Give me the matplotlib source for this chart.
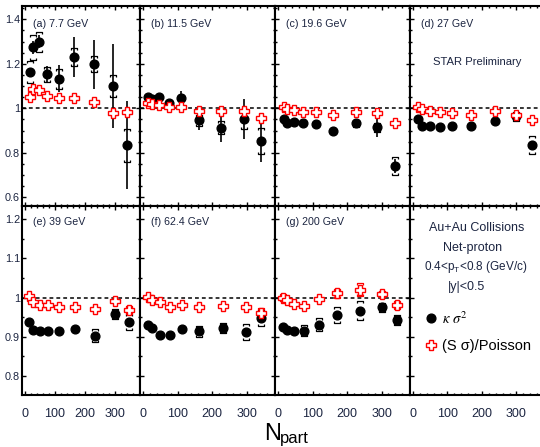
import matplotlib
matplotlib.use('Agg')
import matplotlib.pyplot as plt
from matplotlib.lines import Line2D
from matplotlib.path import Path
from matplotlib.ticker import MultipleLocator, FuncFormatter

plt.rcParams['font.family'] = ['Liberation Sans', 'DejaVu Sans']
plt.rcParams['mathtext.fontset'] = 'custom'
plt.rcParams['mathtext.rm'] = 'Liberation Sans'
plt.rcParams['mathtext.it'] = 'Liberation Sans:italic'

# net-proton moments vs centrality, one block per beam energy
energies = ['7.7', '11.5', '19.6', '27', '39', '62.4', '200']
tags = ['a', 'b', 'c', 'd', 'e', 'f', 'g']

npart_a = [16, 27, 46, 75, 113, 162, 230, 294, 339]
kap_a = [1.162, 1.274, 1.300, 1.154, 1.133, 1.229, 1.198, 1.100, 0.834]
kap_stat_a = [0.02, 0.03, 0.03, 0.037, 0.06, 0.09, 0.11, 0.187, 0.198]
kap_sys_a = [0.05, 0.055, 0.045, 0.034, 0.045, 0.04, 0.036, 0.05, 0.075]
ss_a = [1.052, 1.085, 1.082, 1.057, 1.048, 1.048, 1.030, 0.978, 0.983]
ss_sys_a = [0, 0, 0, 0, 0, 0, 0, 0.008, 0.01]

npart_b = [14, 27, 46, 75, 111, 162, 227, 292, 341]
kap_b = [1.049, 1.040, 1.052, 1.022, 1.048, 0.947, 0.913, 0.952, 0.853]
kap_stat_b = [0.01, 0.01, 0.012, 0.015, 0.03, 0.045, 0.063, 0.09, 0.093]
kap_sys_b = [0.012, 0.01, 0.01, 0.01, 0.01, 0.025, 0.03, 0.045, 0.06]
ss_b = [1.022, 1.020, 1.015, 1.007, 1.004, 0.988, 0.988, 0.988, 0.955]
ss_sys_b = [0, 0, 0, 0, 0, 0, 0, 0, 0]

npart_c = [16, 26, 45, 72, 110, 159, 226, 287, 338]
kap_c = [0.952, 0.935, 0.937, 0.933, 0.929, 0.899, 0.933, 0.915, 0.741]
kap_stat_c = [0.008, 0.008, 0.008, 0.01, 0.012, 0.015, 0.02, 0.045, 0.03]
kap_sys_c = [0.005, 0.005, 0.005, 0.005, 0.005, 0.008, 0.015, 0.02, 0.042]
ss_c = [1.007, 0.998, 0.992, 0.985, 0.984, 0.970, 0.984, 0.978, 0.933]
ss_sys_c = [0, 0, 0, 0, 0, 0, 0, 0, 0]

npart_d = [16, 27, 50, 78, 114, 167, 237, 300, 346]
kap_d = [0.950, 0.922, 0.922, 0.916, 0.922, 0.922, 0.944, 0.965, 0.835]
kap_stat_d = [0.008, 0.008, 0.008, 0.008, 0.01, 0.01, 0.012, 0.015, 0.02]
kap_sys_d = [0.005, 0.005, 0.005, 0.005, 0.005, 0.005, 0.008, 0.02, 0.042]
ss_d = [1.007, 0.995, 0.990, 0.984, 0.978, 0.970, 0.990, 0.970, 0.947]
ss_sys_d = [0, 0, 0, 0, 0, 0, 0, 0.01, 0]

npart_e = [14, 28, 50, 77, 114, 167, 234, 298, 344]
kap_e = [0.937, 0.918, 0.914, 0.914, 0.915, 0.920, 0.903, 0.958, 0.937]
kap_stat_e = [0.004, 0.004, 0.004, 0.004, 0.005, 0.005, 0.006, 0.008, 0.008]
kap_sys_e = [0.003, 0.003, 0.003, 0.003, 0.003, 0.005, 0.017, 0.013, 0.02]
ss_e = [1.005, 0.988, 0.980, 0.980, 0.976, 0.976, 0.971, 0.992, 0.969]
ss_sys_e = [0, 0, 0, 0, 0, 0, 0, 0, 0.01]

npart_f = [14, 27, 48, 77, 114, 163, 232, 298, 343]
kap_f = [0.929, 0.922, 0.905, 0.905, 0.920, 0.914, 0.922, 0.912, 0.948]
kap_stat_f = [0.004, 0.004, 0.004, 0.004, 0.005, 0.005, 0.006, 0.008, 0.008]
kap_sys_f = [0.003, 0.003, 0.003, 0.003, 0.003, 0.014, 0.012, 0.021, 0.02]
ss_f = [1.001, 0.994, 0.988, 0.977, 0.981, 0.977, 0.979, 0.975, 0.960]
ss_sys_f = [0, 0, 0, 0, 0, 0, 0, 0, 0.013]

npart_g = [14, 26, 47, 76, 118, 171, 237, 301, 344]
kap_g = [0.924, 0.918, 0.916, 0.915, 0.931, 0.956, 0.967, 0.975, 0.943]
kap_stat_g = [0.004, 0.004, 0.004, 0.004, 0.005, 0.005, 0.006, 0.008, 0.008]
kap_sys_g = [0.004, 0.004, 0.004, 0.014, 0.017, 0.021, 0.025, 0.012, 0.013]
ss_g = [1.000, 0.994, 0.984, 0.979, 0.996, 1.011, 1.020, 1.009, 0.981]
ss_sys_g = [0.008, 0.004, 0.003, 0.003, 0.004, 0.011, 0.017, 0.008, 0.011]

panels = [
    (npart_a, kap_a, kap_stat_a, kap_sys_a, ss_a, ss_sys_a),
    (npart_b, kap_b, kap_stat_b, kap_sys_b, ss_b, ss_sys_b),
    (npart_c, kap_c, kap_stat_c, kap_sys_c, ss_c, ss_sys_c),
    (npart_d, kap_d, kap_stat_d, kap_sys_d, ss_d, ss_sys_d),
    (npart_e, kap_e, kap_stat_e, kap_sys_e, ss_e, ss_sys_e),
    (npart_f, kap_f, kap_stat_f, kap_sys_f, ss_f, ss_sys_f),
    (npart_g, kap_g, kap_stat_g, kap_sys_g, ss_g, ss_sys_g),
]

TXT = '#1c2541'
W, H = 540, 447

# bracket-shaped caps for systematic errors
cap_top = Path([(-1, -0.6), (-1, 0), (1, 0), (1, -0.6)],
               [Path.MOVETO, Path.LINETO, Path.LINETO, Path.LINETO])
cap_bot = Path([(-1, 0.6), (-1, 0), (1, 0), (1, 0.6)],
               [Path.MOVETO, Path.LINETO, Path.LINETO, Path.LINETO])


def draw_sys(ax, x, y, err, color):
    pts = [(xi, yi, e) for xi, yi, e in zip(x, y, err) if e > 0]
    if not pts:
        return
    xs = [p[0] for p in pts]
    ax.plot(xs, [p[1] + p[2] for p in pts], ls='none', marker=cap_top, ms=5,
            mfc='none', mec=color, mew=0.9, zorder=3)
    ax.plot(xs, [p[1] - p[2] for p in pts], ls='none', marker=cap_bot, ms=5,
            mfc='none', mec=color, mew=0.9, zorder=3)


def ftext(x, y, s, **kw):
    return fig.text(x / W, 1 - y / H, s, **kw)


fig = plt.figure(figsize=(5.4, 4.47), dpi=100)

col_edges = [21.7, 139.7, 274.6, 409.5, 544.4]
row_edges = [6, 206, 395]
ylims = [(0.561, 1.46), (0.752, 1.233)]

axes = []
for r in range(2):
    for c in range(4):
        x0, x1 = col_edges[c], col_edges[c + 1]
        y0, y1 = row_edges[r], row_edges[r + 1]
        ax = fig.add_axes([x0 / W, 1 - y1 / H, (x1 - x0) / W, (y1 - y0) / H])
        ax.set_xlim(-10, 381)
        ax.set_ylim(*ylims[r])
        ax.xaxis.set_major_locator(MultipleLocator(100))
        ax.xaxis.set_minor_locator(MultipleLocator(20))
        if r == 0:
            ax.yaxis.set_major_locator(MultipleLocator(0.2))
        else:
            ax.yaxis.set_major_locator(MultipleLocator(0.1))
        ax.yaxis.set_minor_locator(MultipleLocator(0.05))
        ax.yaxis.set_major_formatter(FuncFormatter(lambda v, p: f'{v:g}'))
        ax.tick_params(which='both', direction='in', top=True, right=True,
                       width=1.0, labelcolor=TXT)
        ax.tick_params(which='major', length=3.2)
        ax.tick_params(which='minor', length=1.7)
        ax.tick_params(axis='x', labelsize=9, pad=9.3, labelbottom=(r == 1))
        ax.tick_params(axis='y', labelsize=7.8, pad=1.2, labelleft=(c == 0))
        for sp in ax.spines.values():
            sp.set_linewidth(1.5)
        axes.append(ax)

for i, (npart, kap, kstat, ksys, ss, ssys) in enumerate(panels):
    ax = axes[i]
    ax.axhline(1, color='k', ls=(0, (2.5, 2)), lw=1.1, zorder=1)
    ax.errorbar(npart, kap, yerr=kstat, fmt='none', ecolor='k',
                elinewidth=1.2, capsize=0, zorder=2)
    draw_sys(ax, npart, kap, ksys, 'k')
    ax.plot(npart, kap, ls='none', marker='o', ms=6.3, color='k', zorder=4)
    draw_sys(ax, npart, ss, ssys, 'red')
    ax.plot(npart, ss, ls='none', marker='P', ms=6.6, mfc='white',
            mec='red', mew=1.0, zorder=5)
    ftext(col_edges[i % 4] + 11.5, 24 if i < 4 else 222,
          f'({tags[i]}) {energies[i]} GeV', fontsize=7.7, color=TXT,
          va='center')

ftext(476.7, 61.7, 'STAR Preliminary', fontsize=8.1, color=TXT,
      ha='center', va='center')

ftext(477, 227.7, 'Au+Au Collisions', fontsize=9, color=TXT,
      ha='center', va='center')
ftext(472.7, 248.3, 'Net-proton', fontsize=9, color=TXT,
      ha='center', va='center')
ftext(475.7, 266.7, r'0.4<p$_{\mathrm{T}}$<0.8 (GeV/c)', fontsize=8.5,
      color=TXT, ha='center', va='center')
ftext(466.7, 286.7, '|y|<0.5', fontsize=9, color=TXT,
      ha='center', va='center')

handles = [
    Line2D([], [], ls='none', marker='o', ms=6.3, color='k'),
    Line2D([], [], ls='none', marker='P', ms=6.6, mfc='white', mec='red',
           mew=1.0),
]
leg = axes[7].legend(handles, [r'$\kappa\ \sigma^2$', '(S σ)/Poisson'],
                     loc='upper left', bbox_to_anchor=(423.4 / W, 1 - 310 / H),
                     bbox_transform=fig.transFigure, frameon=False,
                     fontsize=10.5, handlelength=1.0, handletextpad=0.3,
                     borderpad=0, borderaxespad=0, labelspacing=0.85)
leg.get_texts()[0].set_math_fontfamily('stix')

ftext(263.8, 439.5, 'N', fontsize=17, color='k', va='baseline')
ftext(280, 442.5, 'part', fontsize=12, color='k', va='baseline')

fig.savefig('out.png', dpi=100)
